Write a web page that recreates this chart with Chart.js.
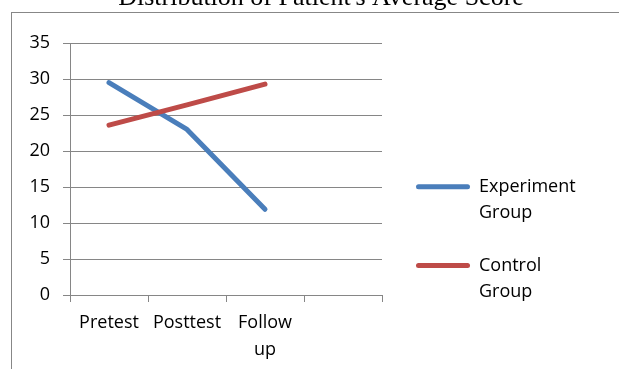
<!DOCTYPE html>
<html>
<head>
<meta charset="utf-8">
<script src="https://cdn.jsdelivr.net/npm/chart.js@4.4.1/dist/chart.umd.min.js"></script>
<style>
  html, body { margin: 0; padding: 0; background: #ffffff; }
  #wrap { position: relative; width: 619px; height: 369px; overflow: hidden; }
  #frame {
    position: absolute; left: 11px; top: 12px; right: -2px; bottom: -2px;
    border-left: 1px solid #878787; border-top: 1px solid #878787;
  }
  #c { position: absolute; left: 0; top: 0; }
</style>
</head>
<body>
<div id="wrap">
  <div id="frame"></div>
  <canvas id="c" width="619" height="369"></canvas>
</div>
<script>
// Average scores per measurement point
const chartTitle = "Distribution of Patient's Average Score";
const categories = ['Pretest', 'Posttest', ['Follow', 'up'], ''];
const seriesNames = ['Experiment Group', 'Control Group'];
const experimentGroup = [29.5, 23.0, 11.9, null];
const controlGroup = [23.6, 26.4, 29.3, null];
const yMin = 0;
const yMax = 35;
const yStep = 5;

const seriesColors = ['#4A7EBB', '#BE4B48'];
const axisGrey = '#868686';
const labelFont = { family: '"Open Sans"', size: 18, lineHeight: 1.48 };

// Legend geometry: left edge of the legend block and its inner spacing
const legendLeft = 390.4;
const legendPad = 25.6;
const legendBoxWidth = 54;

// Title sits above the frame and is partly cut off by the top edge
const titlePlugin = {
  id: 'pageTitle',
  afterDraw(chart) {
    const ctx = chart.ctx;
    ctx.save();
    ctx.font = '26px "Liberation Serif"';
    ctx.fillStyle = '#000000';
    ctx.textAlign = 'center';
    ctx.textBaseline = 'alphabetic';
    ctx.fillText(chartTitle, 321, 4.5);
    ctx.restore();
  }
};

function build() {
  // Width the legend will claim, so the right padding leaves it at legendLeft
  const probe = document.createElement('canvas').getContext('2d');
  probe.font = labelFont.size + 'px ' + labelFont.family;
  const words = seriesNames.flatMap(n => n.split(' '));
  const textWidth = Math.max(...words.map(w => probe.measureText(w).width));
  const legendWidth = legendPad + legendBoxWidth + labelFont.size / 2 + textWidth + 10;
  const rightPad = 619 - legendLeft - legendWidth;

  new Chart(document.getElementById('c'), {
    type: 'line',
    data: {
      labels: categories,
      datasets: [
        {
          label: seriesNames[0],
          data: experimentGroup,
          borderColor: seriesColors[0],
          backgroundColor: seriesColors[0],
          borderWidth: 5,
          pointRadius: 0,
          borderCapStyle: 'round',
          borderJoinStyle: 'round',
          order: 1
        },
        {
          label: seriesNames[1],
          data: controlGroup,
          borderColor: seriesColors[1],
          backgroundColor: seriesColors[1],
          borderWidth: 5,
          pointRadius: 0,
          borderCapStyle: 'round',
          borderJoinStyle: 'round',
          order: 0
        }
      ]
    },
    options: {
      responsive: false,
      animation: false,
      events: [],
      layout: { padding: { top: 43, left: 0, right: rightPad, bottom: 0 } },
      plugins: {
        tooltip: { enabled: false },
        legend: {
          position: 'right',
          align: 'start',
          maxWidth: 400,
          // empty title block keeps the entries low beside the plot
          title: { display: true, text: '', font: { size: 10, lineHeight: 1 }, padding: { top: 99.1, bottom: 0 } },
          labels: {
            font: labelFont,
            color: '#000000',
            boxWidth: legendBoxWidth,
            boxHeight: 5,
            padding: legendPad,
            useBorderRadius: true,
            borderRadius: 2.5,
            generateLabels(chart) {
              return chart.data.datasets.map((ds, i) => ({
                text: ds.label.split(' '),
                fillStyle: ds.borderColor,
                strokeStyle: ds.borderColor,
                fontColor: '#000000',
                lineWidth: 0,
                hidden: false,
                datasetIndex: i,
                borderRadius: 2.5
              }));
            }
          }
        }
      },
      scales: {
        x: {
          offset: true,
          grid: { offset: true, drawOnChartArea: false, tickLength: 7, color: axisGrey },
          border: { color: axisGrey, width: 1 },
          ticks: { font: labelFont, color: '#000000', padding: 7.6, maxRotation: 0, autoSkip: false },
          afterFit(scale) { scale.height = 74; }
        },
        y: {
          min: yMin,
          max: yMax,
          grid: { color: axisGrey, lineWidth: 1, tickLength: 7 },
          border: { color: axisGrey, width: 1 },
          ticks: { stepSize: yStep, font: { family: '"Open Sans"', size: 18 }, color: '#000000', padding: 13 },
          afterFit(scale) { scale.width = 70; }
        },
        gap: {
          type: 'linear',
          position: 'right',
          display: true,
          grid: { display: false },
          border: { display: false },
          ticks: { display: false },
          afterFit(scale) { scale.width = 8.4; }
        }
      }
    },
    plugins: [titlePlugin]
  });
}

Promise.all([
  document.fonts.load('18px "Open Sans"'),
  document.fonts.load('26px "Liberation Serif"')
]).then(build, build);
</script>
</body>
</html>
